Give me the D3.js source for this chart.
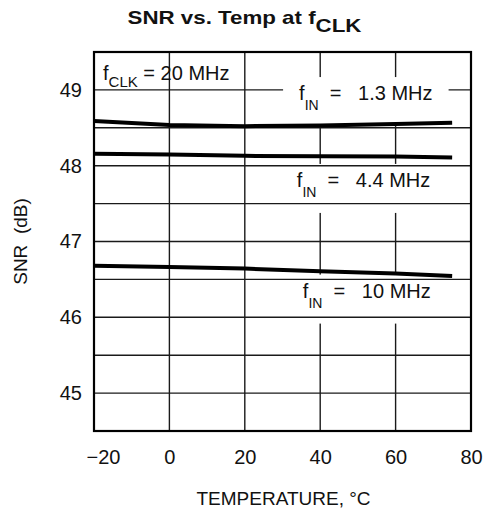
<!DOCTYPE html>
<html>
<head>
<meta charset="utf-8">
<script src="https://cdn.jsdelivr.net/npm/d3@7"></script>
<style>
  html, body { margin: 0; padding: 0; background: #fff; }
  svg { display: block; }
  text { font-family: "Liberation Sans", Arial, sans-serif; fill: #111; }
</style>
</head>
<body>
<svg id="chart" width="483" height="513"></svg>
<script>
// Ambient temperature points (°C) where SNR was measured
const temps = [-20, 0, 20, 40, 60, 75];

// SNR (dB) at each temperature, one array per input frequency
const snr1p3MHz = [48.59, 48.536, 48.522, 48.529, 48.549, 48.565];
const snr4p4MHz = [48.157, 48.149, 48.13, 48.126, 48.122, 48.109];
const snr10MHz  = [46.68, 46.664, 46.643, 46.607, 46.577, 46.545];

// Axis ticks
const xTicks = [-20, 0, 20, 40, 60, 80];
const yTicks = [45, 46, 47, 48, 49];
const yGridStep = 0.5;

const series = [
  { freq: "1.3 MHz", values: snr1p3MHz },
  { freq: "4.4 MHz", values: snr4p4MHz },
  { freq: "10 MHz",  values: snr10MHz }
];

const W = 483, H = 513;
const margin = { top: 52, right: 12, bottom: 82, left: 94 };
const iw = W - margin.left - margin.right;
const ih = H - margin.top - margin.bottom;

const x = d3.scaleLinear().domain([-20, 80]).range([margin.left, margin.left + iw]);
const y = d3.scaleLinear().domain([44.5, 49.5]).range([margin.top + ih, margin.top]);

const svg = d3.select("#chart");

// Title: "SNR vs. Temp at f" with CLK subscript, set in a widened bold face
const title = svg.append("text")
  .attr("transform", `translate(${(margin.left + margin.left + iw) / 2 - 38},23.5) scale(1.24,1)`)
  .attr("text-anchor", "middle")
  .style("font-weight", "bold")
  .style("font-size", "18px");
title.append("tspan").text("SNR vs. Temp at f");
title.append("tspan").attr("dy", 8).text("CLK");

const grid = svg.append("g");
const gridColor = "#1a1a1a";

// Vertical grid lines (interior)
grid.selectAll("line.v")
  .data(xTicks.slice(1, -1))
  .join("line")
  .attr("class", "v")
  .attr("x1", d => x(d)).attr("x2", d => x(d))
  .attr("y1", y.range()[1]).attr("y2", y.range()[0])
  .attr("stroke", gridColor).attr("stroke-width", 1.4);

// Curve labels placed in data space
const curveLabels = [
  { main: "f", sub: "IN", rest: "  =   1.3 MHz", t: 34.4, v: 48.866 },
  { main: "f", sub: "IN", rest: "  =   4.4 MHz", t: 33.8, v: 47.72 },
  { main: "f", sub: "IN", rest: "  =   10 MHz",  t: 35.4, v: 46.26 }
];

function addLabel(g, d, subSize, subShift) {
  const t = g.append("text")
    .attr("x", x(d.t)).attr("y", y(d.v))
    .style("font-size", "20px")
    .style("white-space", "pre");
  t.append("tspan").text(d.main);
  t.append("tspan").attr("dy", subShift).style("font-size", subSize + "px").text(d.sub);
  t.append("tspan").attr("dy", -subShift).text(d.rest);
  return t;
}

const tallBgLayer = svg.append("g");
const hGridLayer = svg.append("g");
const tightBgLayer = svg.append("g");
const textLayer = svg.append("g");

curveLabels.forEach(d => {
  const t = addLabel(textLayer, d, 14, 10);
  const b = t.node().getBBox();
  // Tall white patch interrupts the vertical grid behind the label
  tallBgLayer.append("rect")
    .attr("x", b.x - 16).attr("y", b.y - 5)
    .attr("width", b.width + 32).attr("height", b.height + 18)
    .attr("fill", "#fff");
  // Tight white patch clears any horizontal grid running through the text
  tightBgLayer.append("rect")
    .attr("x", b.x - 16).attr("y", b.y + 1)
    .attr("width", b.width + 32).attr("height", b.height - 2)
    .attr("fill", "#fff");
});

// Horizontal grid lines every 0.5 dB
hGridLayer.selectAll("line.h")
  .data(d3.range(45, 49.001, yGridStep))
  .join("line")
  .attr("x1", x.range()[0]).attr("x2", x.range()[1])
  .attr("y1", d => y(d)).attr("y2", d => y(d))
  .attr("stroke", gridColor).attr("stroke-width", 1.4);

// Clock-frequency note in the top-left cell
const clk = textLayer.append("text")
  .attr("x", x(-17.6)).attr("y", y(49.13))
  .style("font-size", "20px")
  .style("white-space", "pre");
clk.append("tspan").text("f");
clk.append("tspan").attr("dy", 7).style("font-size", "15px").text("CLK");
clk.append("tspan").attr("dy", -7).text(" = 20 MHz");

// Data curves
const line = d3.line()
  .x((d, i) => x(temps[i]))
  .y(d => y(d));

svg.append("g").selectAll("path")
  .data(series)
  .join("path")
  .attr("d", d => line(d.values))
  .attr("fill", "none")
  .attr("stroke", "#000")
  .attr("stroke-width", 4)
  .attr("stroke-linecap", "butt");

// Plot frame
svg.append("rect")
  .attr("x", margin.left).attr("y", margin.top)
  .attr("width", iw).attr("height", ih)
  .attr("fill", "none").attr("stroke", "#000").attr("stroke-width", 2.2);

// Axes
const yAxis = svg.append("g")
  .attr("transform", `translate(${margin.left},0)`)
  .call(d3.axisLeft(y).tickValues(yTicks).tickFormat(d3.format("d")).tickSize(0).tickPadding(12));
yAxis.select(".domain").remove();
yAxis.selectAll("text").style("font-size", "20px").attr("fill", "#111")
  .style("font-family", "'Liberation Sans', Arial, sans-serif");

const xAxis = svg.append("g")
  .attr("transform", `translate(0,${margin.top + ih})`)
  .call(d3.axisBottom(x).tickValues(xTicks).tickSize(0).tickPadding(19));
xAxis.select(".domain").remove();
xAxis.selectAll("text").style("font-size", "20px").attr("fill", "#111")
  .style("font-family", "'Liberation Sans', Arial, sans-serif")
  .attr("dx", d => d === xTicks[0] ? "0.45em" : null);

// Axis titles
svg.append("text")
  .attr("x", (x.range()[0] + x.range()[1]) / 2 + 1)
  .attr("y", 505)
  .attr("text-anchor", "middle")
  .style("font-size", "19px")
  .text("TEMPERATURE, °C");

svg.append("text")
  .attr("transform", `translate(27,${(y.range()[0] + y.range()[1]) / 2})rotate(-90)`)
  .attr("text-anchor", "middle")
  .style("font-size", "19px")
  .style("white-space", "pre")
  .text("SNR  (dB)");
</script>
</body>
</html>
